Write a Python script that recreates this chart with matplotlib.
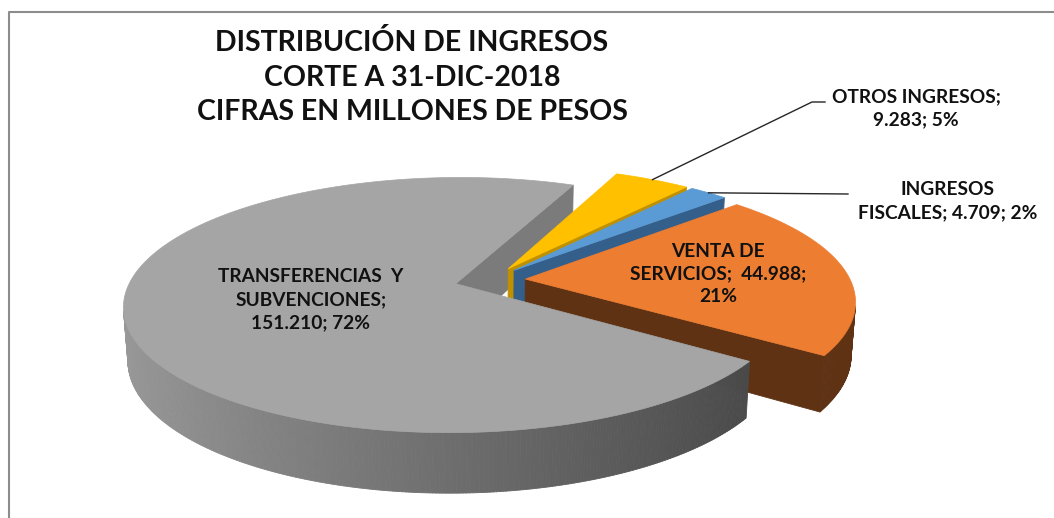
"""Distribución de ingresos - 3D exploded pie (Excel style)."""
import numpy as np
import matplotlib
matplotlib.use("Agg")
import matplotlib.pyplot as plt
from matplotlib.collections import PolyCollection

plt.rcParams["font.family"] = ["Lato", "DejaVu Sans"]

# data (clockwise from the first slice)
categories = ["OTROS INGRESOS", "INGRESOS FISCALES", "VENTA DE SERVICIOS",
              "TRANSFERENCIAS Y SUBVENCIONES"]
values = [9283, 4709, 44988, 151210]
label_text = ["OTROS INGRESOS;\n9.283; 5%",
              "INGRESOS\nFISCALES; 4.709; 2%",
              "VENTA DE\nSERVICIOS;  44.988;\n21%",
              "TRANSFERENCIAS  Y\nSUBVENCIONES;\n151.210; 72%"]

top_colors = ["#FFC000", "#5B9BD5", "#ED7D31", "#A5A5A5"]
side_colors = ["#BF9000", "#345F8B", "#5F3214", "#6E6E6E"]
cut_colors = ["#BF9000", "#345F8B", "#5F3214", "#7B7B7B"]
side_shade = [0.0, 0.0, 0.0, 0.4]

# 3D view settings (screen pixels)
CX, CY = 490, 280
F = 1807
DIST = 5.56
ELEV = 22.2
DEPTH = 0.175
EXPLODE = 0.109
START = 66.5

el = np.radians(ELEV)
sn, cs = np.sin(el), np.cos(el)
cam = np.array([0.0, -DIST * cs])


def proj(x, y, z):
    x = np.asarray(x, float); y = np.asarray(y, float); z = np.asarray(z, float)
    yc = y * sn + z * cs
    zc = y * cs - z * sn + DIST
    return CX + F * x / zc, CY - F * yc / zc


def shade(color, k):
    rgb = np.array(matplotlib.colors.to_rgb(color)) * k
    return tuple(np.clip(rgb, 0, 1))


fig = plt.figure(figsize=(10.54, 5.18), dpi=100)
ax = fig.add_axes([0, 0, 1, 1])
ax.set_xlim(0, 1054); ax.set_ylim(518, 0); ax.axis("off")
fig.patch.set_facecolor("white")

# chart frame
ax.plot([9, 9, 1060], [530, 12, 12], color="#8c8c8c", lw=1.5, zorder=0)

fracs = np.array(values) / np.sum(values)
cum = np.concatenate([[0], np.cumsum(fracs)[:-1]])
slices = []
for i, fr in enumerate(fracs):
    a_hi = START - 360 * cum[i]
    a_lo = a_hi - 360 * fr
    mid = np.radians((a_hi + a_lo) / 2)
    cx, cy = EXPLODE * np.cos(mid), EXPLODE * np.sin(mid)
    slices.append(dict(i=i, lo=a_lo, hi=a_hi, mid=mid, cx=cx, cy=cy))

# visible radial cut faces, drawn left to right
faces = []
for d in slices:
    for a, sign in ((d["lo"], 1), (d["hi"], -1)):
        t = np.radians(a)
        n = sign * np.array([np.sin(t), -np.cos(t)])
        p0 = np.array([d["cx"], d["cy"]])
        if n @ (cam - p0) <= 0:
            continue
        faces.append((d["cx"] + 0.5 * np.cos(t), d, t))
z = 1
for _, d, t in sorted(faces, key=lambda f: f[0]):
    px = [d["cx"], d["cx"] + np.cos(t), d["cx"] + np.cos(t), d["cx"]]
    py = [d["cy"], d["cy"] + np.sin(t), d["cy"] + np.sin(t), d["cy"]]
    X, Y = proj(px, py, [0, 0, -DEPTH, -DEPTH])
    ax.fill(X, Y, color=cut_colors[d["i"]], lw=0.6, zorder=z)
    z += 1

# outer rim sides, biggest slice last
order_side = sorted(slices, key=lambda d: values[d["i"]])
for d in order_side:
    ts = np.radians(np.arange(d["lo"], d["hi"] + 0.5, 0.5))
    ts[-1] = np.radians(d["hi"])
    polys, cols = [], []
    for t0, t1 in zip(ts[:-1], ts[1:]):
        tm = (t0 + t1) / 2
        n = np.array([np.cos(tm), np.sin(tm)])
        p = np.array([d["cx"], d["cy"]]) + n
        if n @ (cam - p) <= 0:
            continue
        px = d["cx"] + np.cos([t0, t1, t1, t0])
        py = d["cy"] + np.sin([t0, t1, t1, t0])
        X, Y = proj(px, py, [0, 0, -DEPTH, -DEPTH])
        polys.append(np.column_stack([X, Y]))
        cols.append(shade(side_colors[d["i"]], 1 - side_shade[d["i"]] * np.cos(tm)))
    if polys:
        ax.add_collection(PolyCollection(polys, facecolors=cols, edgecolors=cols,
                                         linewidths=0.6, zorder=z))
    z += 1

# top faces
for d in slices:
    ts = np.radians(np.linspace(d["lo"], d["hi"], 200))
    px = np.concatenate([[d["cx"]], d["cx"] + np.cos(ts)])
    py = np.concatenate([[d["cy"]], d["cy"] + np.sin(ts)])
    X, Y = proj(px, py, np.zeros_like(px))
    ax.fill(X, Y, color=top_colors[d["i"]], lw=0.5, zorder=z)
z += 1

# title
ax.text(412, 77, "DISTRIBUCIÓN DE INGRESOS\nCORTE A 31-DIC-2018\nCIFRAS EN MILLONES DE PESOS",
        ha="center", va="center", fontsize=20.5, fontweight="bold", color="#111111",
        linespacing=1.40, zorder=z)

# data labels: inside for the big slices, outside with leaders for small ones
inside_r = [None, None, 0.6, 0.45]
outside_pos = [(916, 108), (948, 201)]
leader_knee = [(812, 102), None]
leader_end = [(825, 102), (848, 194)]
for d in slices:
    i = d["i"]
    if inside_r[i] is not None:
        r = inside_r[i]
        X, Y = proj(d["cx"] + r * np.cos(d["mid"]), d["cy"] + r * np.sin(d["mid"]), 0)
        ax.text(float(X), float(Y), label_text[i], ha="center", va="center", fontsize=13.8,
                fontweight="bold", color="#111111", linespacing=1.42, zorder=z)
    else:
        X, Y = proj(d["cx"] + np.cos(d["mid"]), d["cy"] + np.sin(d["mid"]), 0)
        pts = [(float(X), float(Y))]
        if leader_knee[i] is not None:
            pts.append(leader_knee[i])
        pts.append(leader_end[i])
        ax.plot([p[0] for p in pts], [p[1] for p in pts], color="#262626", lw=1.0, zorder=z)
        ax.text(outside_pos[i][0], outside_pos[i][1], label_text[i], ha="center", va="center",
                fontsize=13.8, fontweight="bold", color="#111111", linespacing=1.42, zorder=z)

plt.savefig("out.png", dpi=100, facecolor="white")
